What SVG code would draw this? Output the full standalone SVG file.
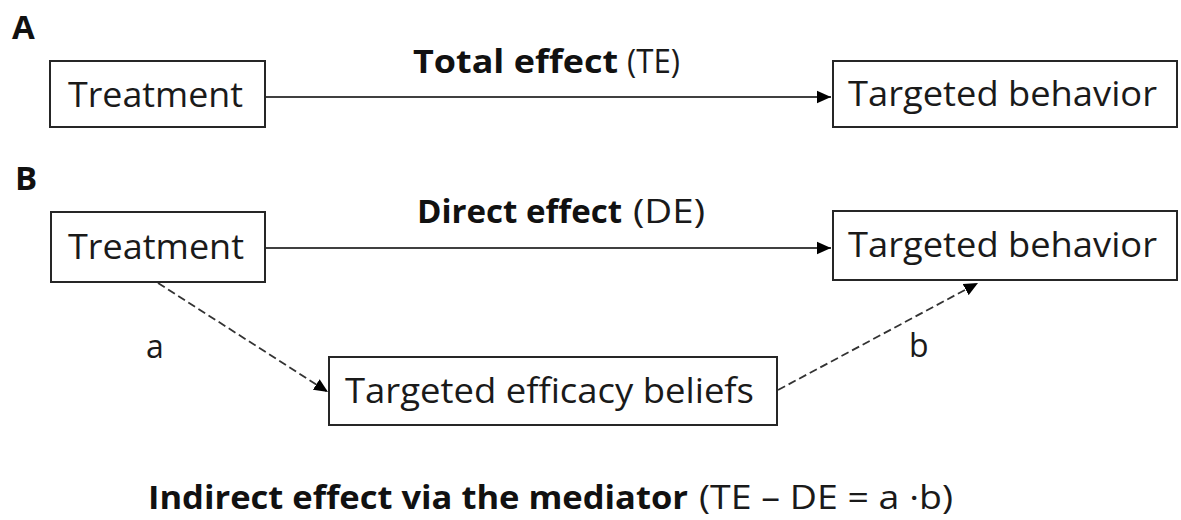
<svg xmlns="http://www.w3.org/2000/svg" width="1181" height="520" viewBox="0 0 1181 520">
<style>
text{font-family:"Open Sans","Noto Sans","Liberation Sans",sans-serif;fill:#1a1a1a}
.box{fill:#fff;stroke:#262626;stroke-width:2}
.lbl{font-size:34px}
.ttl{font-size:32px}
.b{font-weight:bold;fill:#111}
.panel{font-size:33px;font-weight:bold;fill:#111}
.solid{stroke:#000;stroke-width:1.6;fill:none}
.dash{stroke:#333;stroke-width:1.8;fill:none;stroke-dasharray:8 4}
</style>
<defs>
<marker id="ah2" viewBox="0 0 10 10" refX="10" refY="5" markerWidth="14" markerHeight="14" markerUnits="userSpaceOnUse" orient="auto">
<path d="M0,0.5L10,5L0,9.5z" fill="#000"/>
</marker>
</defs>
<g id="panel-labels">
<text class="panel" x="12" y="39">A</text>
<text class="panel" x="15" y="190">B</text>
</g>
<g id="connectors">
<line class="solid" x1="266" y1="97" x2="831" y2="97" marker-end="url(#ah2)"/>
<line class="solid" x1="266" y1="248" x2="831" y2="248" marker-end="url(#ah2)"/>
<line class="dash" x1="158" y1="283" x2="328" y2="392" marker-end="url(#ah2)"/>
<line class="dash" x1="778" y1="390" x2="978" y2="283" marker-end="url(#ah2)"/>
</g>
<g id="nodeA-treatment">
<rect class="box" x="50" y="61" width="215" height="66"/>
<text class="lbl" x="68" y="107" textLength="175" lengthAdjust="spacingAndGlyphs">Treatment</text>
</g>
<g id="nodeA-behavior">
<rect class="box" x="833" y="61" width="344" height="66"/>
<text class="lbl" x="848" y="106" textLength="309" lengthAdjust="spacingAndGlyphs">Targeted behavior</text>
</g>
<g id="nodeB-treatment">
<rect class="box" x="51" y="212" width="214" height="70"/>
<text class="lbl" x="68" y="259" textLength="176" lengthAdjust="spacingAndGlyphs">Treatment</text>
</g>
<g id="nodeB-behavior">
<rect class="box" x="833" y="211" width="344" height="69"/>
<text class="lbl" x="848" y="257" textLength="309" lengthAdjust="spacingAndGlyphs">Targeted behavior</text>
</g>
<g id="nodeB-efficacy">
<rect class="box" x="329" y="357" width="448" height="68"/>
<text class="lbl" x="345" y="403" textLength="409" lengthAdjust="spacingAndGlyphs">Targeted efficacy beliefs</text>
</g>
<g id="edge-labels">
<text class="ttl b" x="413" y="73" textLength="205" lengthAdjust="spacingAndGlyphs">Total effect</text>
<text class="ttl" x="627" y="73" textLength="53" lengthAdjust="spacingAndGlyphs">(TE)</text>
<text class="ttl b" x="417" y="223" textLength="205" lengthAdjust="spacingAndGlyphs">Direct effect</text>
<text class="ttl" x="633" y="223" textLength="72" lengthAdjust="spacingAndGlyphs">(DE)</text>
<text class="ttl" x="146" y="358">a</text>
<text class="ttl" x="909" y="357">b</text>
<text class="ttl b" x="148" y="509" textLength="540" lengthAdjust="spacingAndGlyphs">Indirect effect via the mediator</text>
<text class="ttl" x="699" y="509" textLength="254" lengthAdjust="spacingAndGlyphs">(TE – DE = a ·b)</text>
</g>
</svg>
